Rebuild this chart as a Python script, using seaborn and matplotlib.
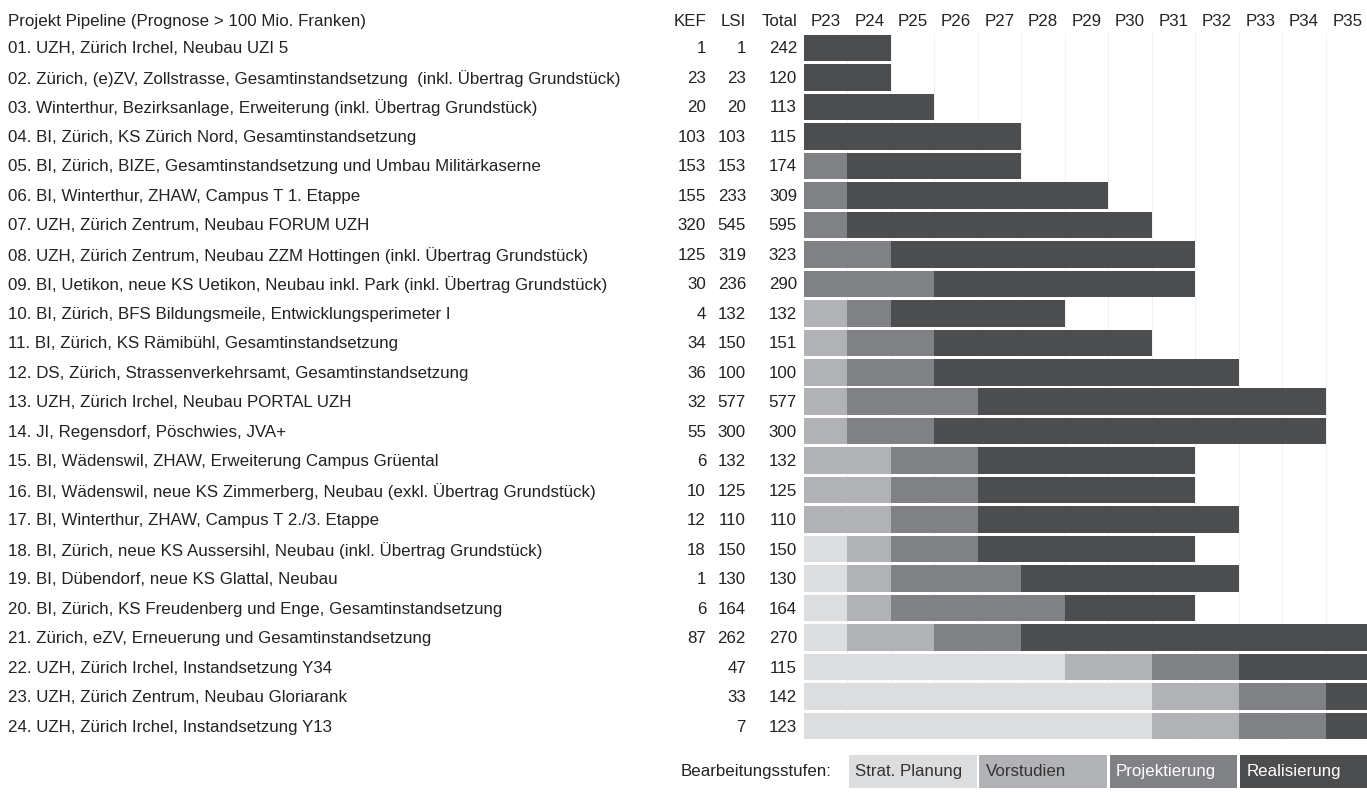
import numpy as np
import pandas as pd
import seaborn as sns
import matplotlib.pyplot as plt
import matplotlib.transforms as mtransforms
from matplotlib.patches import Rectangle

# project names
projects = [
    "01. UZH, Zürich Irchel, Neubau UZI 5",
    "02. Zürich, (e)ZV, Zollstrasse, Gesamtinstandsetzung  (inkl. Übertrag Grundstück)",
    "03. Winterthur, Bezirksanlage, Erweiterung (inkl. Übertrag Grundstück)",
    "04. BI, Zürich, KS Zürich Nord, Gesamtinstandsetzung",
    "05. BI, Zürich, BIZE, Gesamtinstandsetzung und Umbau Militärkaserne",
    "06. BI, Winterthur, ZHAW, Campus T 1. Etappe",
    "07. UZH, Zürich Zentrum, Neubau FORUM UZH",
    "08. UZH, Zürich Zentrum, Neubau ZZM Hottingen (inkl. Übertrag Grundstück)",
    "09. BI, Uetikon, neue KS Uetikon, Neubau inkl. Park (inkl. Übertrag Grundstück)",
    "10. BI, Zürich, BFS Bildungsmeile, Entwicklungsperimeter I",
    "11. BI, Zürich, KS Rämibühl, Gesamtinstandsetzung",
    "12. DS, Zürich, Strassenverkehrsamt, Gesamtinstandsetzung",
    "13. UZH, Zürich Irchel, Neubau PORTAL UZH",
    "14. JI, Regensdorf, Pöschwies, JVA+",
    "15. BI, Wädenswil, ZHAW, Erweiterung Campus Grüental",
    "16. BI, Wädenswil, neue KS Zimmerberg, Neubau (exkl. Übertrag Grundstück)",
    "17. BI, Winterthur, ZHAW, Campus T 2./3. Etappe",
    "18. BI, Zürich, neue KS Aussersihl, Neubau (inkl. Übertrag Grundstück)",
    "19. BI, Dübendorf, neue KS Glattal, Neubau",
    "20. BI, Zürich, KS Freudenberg und Enge, Gesamtinstandsetzung",
    "21. Zürich, eZV, Erneuerung und Gesamtinstandsetzung",
    "22. UZH, Zürich Irchel, Instandsetzung Y34",
    "23. UZH, Zürich Zentrum, Neubau Gloriarank",
    "24. UZH, Zürich Irchel, Instandsetzung Y13",
]
kef = ["1", "23", "20", "103", "153", "155", "320", "125", "30", "4", "34", "36",
       "32", "55", "6", "10", "12", "18", "1", "6", "87", "", "", ""]
lsi = [1, 23, 20, 103, 153, 233, 545, 319, 236, 132, 150, 100,
       577, 300, 132, 125, 110, 150, 130, 164, 262, 47, 33, 7]
total = [242, 120, 113, 115, 174, 309, 595, 323, 290, 132, 151, 100,
         577, 300, 132, 125, 110, 150, 130, 164, 270, 115, 142, 123]

periods = ["P23", "P24", "P25", "P26", "P27", "P28", "P29",
           "P30", "P31", "P32", "P33", "P34", "P35"]

# duration of each stage, in periods (starting at P23)
strat = [0, 0, 0, 0, 0, 0, 0, 0, 0, 0, 0, 0, 0, 0, 0, 0, 0, 1, 1, 1, 1, 6, 8, 8]
vor = [0, 0, 0, 0, 0, 0, 0, 0, 0, 1, 1, 1, 1, 1, 2, 2, 2, 1, 1, 1, 2, 2, 2, 2]
proj = [0, 0, 0, 0, 1, 1, 1, 2, 3, 1, 2, 2, 3, 2, 2, 2, 2, 2, 3, 4, 2, 2, 2, 2]
real = [2, 2, 3, 5, 4, 6, 7, 7, 6, 4, 5, 7, 8, 9, 5, 5, 6, 5, 5, 3, 8, 3, 1, 1]

stages = ["Strat. Planung", "Vorstudien", "Projektierung", "Realisierung"]
stage_colors = ["#dcdddf", "#b1b2b5", "#808184", "#4c4d4f"]
legend_text_colors = ["#333333", "#333333", "white", "white"]

df = pd.DataFrame({"project": projects, "strat": strat, "vor": vor,
                   "proj": proj, "real": real})
df["end_strat"] = df["strat"]
df["end_vor"] = df["end_strat"] + df["vor"]
df["end_proj"] = df["end_vor"] + df["proj"]
df["end_real"] = df["end_proj"] + df["real"]

sns.set_theme(style="white")
plt.rcParams["font.family"] = ["Liberation Sans", "DejaVu Sans"]
txt_color = "#222222"
fs = 12.2

W, H = 1367, 804
fig = plt.figure(figsize=(W / 100, H / 100), dpi=100)
ax_left, ax_right = 804 / W, 1369 / W
ax_top, ax_bot = 1 - 34.2 / H, 1 - 741.8 / H
ax = fig.add_axes([ax_left, ax_bot, ax_right - ax_left, ax_top - ax_bot])

# faint column grid
for i in range(1, len(periods)):
    ax.axvline(i, color="#f0f0f0", lw=0.6, zorder=0)

# overlay cumulative ends: longest first
for col, c in zip(["end_real", "end_proj", "end_vor", "end_strat"], stage_colors[::-1]):
    sns.barplot(data=df, x=col, y="project", orient="h", color=c, width=0.9,
                saturation=1, linewidth=0, ax=ax, zorder=2)

ax.set_xlim(0, len(periods))
ax.set_ylim(len(projects) - 0.5, -0.5)
ax.set_axis_off()

# table text
tr = mtransforms.blended_transform_factory(fig.transFigure, ax.transData)
header_y = -0.915
fig_x = lambda px: px / W
ax.text(fig_x(8), header_y, "Projekt Pipeline (Prognose > 100 Mio. Franken)", transform=tr,
        ha="left", va="center", fontsize=fs, color=txt_color)
for lab, xr in zip(["KEF", "LSI", "Total"], [706, 746, 797]):
    ax.text(fig_x(xr), header_y, lab, transform=tr, ha="right", va="center",
            fontsize=fs, color=txt_color)
for i, p in enumerate(periods):
    ax.text(i + 0.5, header_y, p, ha="center", va="center", fontsize=fs, color=txt_color)

for i, name in enumerate(projects):
    ax.text(fig_x(8), i, name, transform=tr, ha="left", va="center",
            fontsize=fs, color=txt_color)
    ax.text(fig_x(706), i, kef[i], transform=tr, ha="right", va="center",
            fontsize=fs, color=txt_color)
    ax.text(fig_x(746), i, str(lsi[i]), transform=tr, ha="right", va="center",
            fontsize=fs, color=txt_color)
    ax.text(fig_x(797), i, str(total[i]), transform=tr, ha="right", va="center",
            fontsize=fs, color=txt_color)

# legend of stages
ltr = mtransforms.blended_transform_factory(ax.transData, fig.transFigure)
box_bot, box_top = 1 - 789 / H, 1 - 756 / H
text_y = 1 - 772 / H
fig.text(fig_x(832), text_y, "Bearbeitungsstufen:", ha="right", va="center",
         fontsize=fs, color=txt_color)
for k, (s, c, tc) in enumerate(zip(stages, stage_colors, legend_text_colors)):
    x0 = 1 + 3 * k + 0.03
    x1 = 4 + 3 * k - 0.03
    ax.add_patch(Rectangle((x0, box_bot), x1 - x0, box_top - box_bot, transform=ltr,
                           facecolor=c, edgecolor="none", clip_on=False, zorder=3))
    ax.text(x0 + 0.15, text_y, s, transform=ltr, ha="left", va="center",
            fontsize=fs, color=tc, zorder=4)

fig.savefig("out.png", dpi=100)
